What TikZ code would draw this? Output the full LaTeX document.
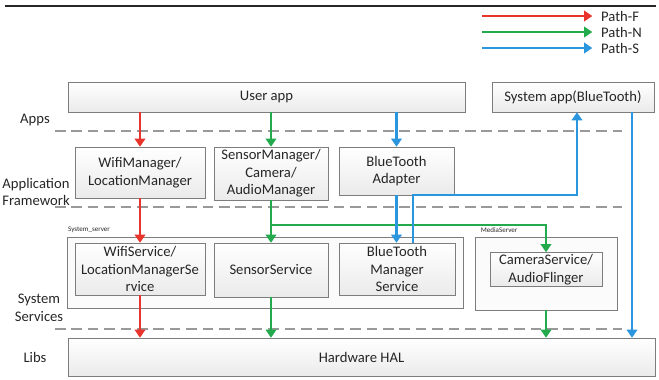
\documentclass[tikz,border=0pt]{standalone}
\usepackage{fontspec}
\setmainfont{Carlito}
\usetikzlibrary{positioning,arrows.meta}
\definecolor{pathred}{RGB}{232,52,44}
\definecolor{pathgreen}{RGB}{34,170,76}
\definecolor{pathblue}{RGB}{42,150,222}
\definecolor{boxline}{RGB}{125,125,125}

\begin{document}
\begin{tikzpicture}[x=0.03cm,y=-0.03cm,
    font=\fontsize{12.5}{15}\selectfont,text=black!85,
    size/.style 2 args={minimum width=#1*0.03cm,minimum height=#2*0.03cm},
    block/.style={draw=boxline,top color=white,bottom color=gray!16,align=center,inner sep=1pt},
    group/.style={draw=boxline,fill=gray!3,inner sep=0pt},
    tag/.style={font=\fontsize{6}{7}\selectfont,anchor=south west,inner sep=1pt},
    divider/.style={draw=gray!80,dash pattern=on 9pt off 5pt,line width=0.9pt},
    flow/.style={line width=1.9pt,-{Triangle[length=7pt,width=9pt]}},
    pathF/.style={flow,pathred},
    pathN/.style={flow,pathgreen},
    pathS/.style={flow,pathblue}]
    \useasboundingbox (0,0) rectangle (659,379);
    \draw[line width=1.2pt,black!85] (5,6) -- (656,6);

    % Legend
    \foreach \name/\col/\y in {F/pathred/16,N/pathgreen/32,S/pathblue/48} {
        \coordinate (leg_\name) at (482,\y);
        \node[anchor=west] (leg_label_\name) at (597,\y) {Path-\name};
        \draw[flow,\col,shorten >=4pt] (leg_\name) -- (leg_label_\name.west);
    }

    % Layer dividers and names
    \foreach \y in {131,207,329}
        \draw[divider] (55,\y) -- (622,\y);
    \node (l_apps) at (35,120) {Apps};
    \node[align=left,anchor=west,inner sep=1pt] (l_framework) at (1,192) {Application\\Framework};
    \node[align=center] (l_services) at (39,308) {System\\Services};
    \node (l_libs) at (35,357) {Libs};

    % Apps
    \node[block,size={397}{30}] (user_app) at (266.5,97) {User app};
    \node[block,size={162}{30}] (system_app) at (573,97) {System app(BlueTooth)};

    % Application framework
    \node[block,size={130}{51}] (wifi_manager) at (140,172.5) {WifiManager/\\LocationManager};
    \node[block,size={114}{53}] (sensor_manager) at (271,173.5) {SensorManager/\\Camera/\\AudioManager};
    \node[block,size={115}{48}] (bt_adapter) at (396.5,171) {BlueTooth\\Adapter};

    % System services
    \node[group,size={396}{71}] (system_server) at (265,272.5) {};
    \node[tag] (l_system_server) at ([yshift=2pt]system_server.north west) {System\_server};
    \node[group,size={142}{73}] (media_server) at (546,273.5) {};
    \node[tag] (l_media_server) at ([yshift=2pt,xshift=4pt]media_server.north west) {MediaServer};
    \node[block,size={130}{52}] (wifi_service) at (140,269) {WifiService/\\LocationManagerSe\\rvice};
    \node[block,size={114}{54}] (sensor_service) at (271,270) {SensorService};
    \node[block,size={116}{52}] (bt_service) at (397,269) {BlueTooth\\Manager\\Service};
    \node[block,size={112}{34}] (camera_service) at (546,269.5) {CameraService/\\AudioFlinger};

    % Libs
    \node[block,size={587}{38}] (hal) at (361.5,357) {Hardware HAL};

    % Path-F
    \draw[pathF] (user_app.south -| wifi_manager.north) -- (wifi_manager.north);
    \draw[pathF] (wifi_manager.south) -- (wifi_service.north);
    \draw[pathF] (wifi_service.south) -- (hal.north -| wifi_service.south);

    % Path-N
    \draw[pathN] (user_app.south -| sensor_manager.north) -- (sensor_manager.north);
    \draw[pathN] (sensor_manager.south) -- (sensor_service.north);
    \coordinate (n_branch) at (271,225);
    \draw[pathN] (n_branch) -| (camera_service.north);
    \draw[pathN] (sensor_service.south) -- (hal.north -| sensor_service.south);
    \draw[pathN] (media_server.south) -- (hal.north -| media_server.south);

    % Path-S
    \draw[pathS] (user_app.south -| bt_adapter.north) -- (bt_adapter.north);
    \draw[pathS] (bt_adapter.south) -- (bt_service.north -| bt_adapter.south);
    \coordinate (s_turn1) at (413,195);
    \coordinate (s_turn2) at (577,195);
    \draw[pathS] (bt_service.north -| s_turn1) -- (s_turn1) -- (s_turn2) -- (system_app.south -| s_turn2);
    \coordinate (s_down) at (632,120);
    \draw[pathS] (system_app.south -| s_down) -- (hal.north -| s_down);
\end{tikzpicture}
\end{document}
